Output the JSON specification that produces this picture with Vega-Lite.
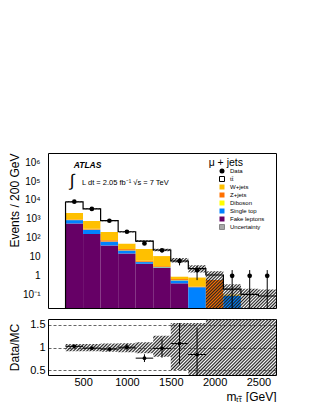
{
  "$schema": "https://vega.github.io/schema/vega-lite/v6.json",
  "background": "white",
  "padding": {"left": 7, "top": 148, "right": 0, "bottom": 0},
  "spacing": 11,
  "bounds": "flush",
  "config": {
    "font": "Liberation Sans",
    "view": {"stroke": null},
    "axis": {"domainColor": "#000", "domainWidth": 1, "tickColor": "#000", "tickWidth": 0.8, "tickSize": 0, "labelColor": "#000", "titleColor": "#000", "labelFont": "Liberation Sans", "titleFont": "Liberation Sans", "titleFontWeight": "normal", "grid": false, "zindex": 2, "labelFlush": false, "labelOverlap": false},
    "legend": {"orient": "none", "legendX": 171, "legendY": 15, "title": null, "padding": 0, "labelFontSize": 6, "labelFont": "Liberation Sans", "labelColor": "#000", "labelOffset": 5, "symbolSize": 25, "rowPadding": -2.4, "symbolStrokeWidth": 1, "symbolOpacity": 1},
    "text": {"font": "Liberation Sans", "color": "#000"}
  },
  "datasets": {
    "stack": [
      {"bin":1,"lo":300,"hi":500,"k":1,"proc":"Fake leptons","v":575},
      {"bin":1,"lo":300,"hi":500,"k":2,"proc":"Single top","v":290},
      {"bin":1,"lo":300,"hi":500,"k":3,"proc":"Diboson","v":5},
      {"bin":1,"lo":300,"hi":500,"k":4,"proc":"Z+jets","v":60},
      {"bin":1,"lo":300,"hi":500,"k":5,"proc":"W+jets","v":1120},
      {"bin":1,"lo":300,"hi":500,"k":6,"proc":"tt̄","v":5900},
      {"bin":2,"lo":500,"hi":700,"k":1,"proc":"Fake leptons","v":160},
      {"bin":2,"lo":500,"hi":700,"k":2,"proc":"Single top","v":110},
      {"bin":2,"lo":500,"hi":700,"k":3,"proc":"Diboson","v":3},
      {"bin":2,"lo":500,"hi":700,"k":4,"proc":"Z+jets","v":27},
      {"bin":2,"lo":500,"hi":700,"k":5,"proc":"W+jets","v":480},
      {"bin":2,"lo":500,"hi":700,"k":6,"proc":"tt̄","v":2620},
      {"bin":3,"lo":700,"hi":900,"k":1,"proc":"Fake leptons","v":40},
      {"bin":3,"lo":700,"hi":900,"k":2,"proc":"Single top","v":23},
      {"bin":3,"lo":700,"hi":900,"k":3,"proc":"Diboson","v":1},
      {"bin":3,"lo":700,"hi":900,"k":4,"proc":"Z+jets","v":11},
      {"bin":3,"lo":700,"hi":900,"k":5,"proc":"W+jets","v":130},
      {"bin":3,"lo":700,"hi":900,"k":6,"proc":"tt̄","v":615},
      {"bin":4,"lo":900,"hi":1100,"k":1,"proc":"Fake leptons","v":15},
      {"bin":4,"lo":900,"hi":1100,"k":2,"proc":"Single top","v":6.5},
      {"bin":4,"lo":900,"hi":1100,"k":3,"proc":"Diboson","v":0.5},
      {"bin":4,"lo":900,"hi":1100,"k":4,"proc":"Z+jets","v":3.5},
      {"bin":4,"lo":900,"hi":1100,"k":5,"proc":"W+jets","v":25},
      {"bin":4,"lo":900,"hi":1100,"k":6,"proc":"tt̄","v":160},
      {"bin":5,"lo":1100,"hi":1300,"k":1,"proc":"Fake leptons","v":4.3},
      {"bin":5,"lo":1100,"hi":1300,"k":2,"proc":"Single top","v":1.0},
      {"bin":5,"lo":1100,"hi":1300,"k":3,"proc":"Diboson","v":0.2},
      {"bin":5,"lo":1100,"hi":1300,"k":4,"proc":"Z+jets","v":0.7},
      {"bin":5,"lo":1100,"hi":1300,"k":5,"proc":"W+jets","v":20},
      {"bin":5,"lo":1100,"hi":1300,"k":6,"proc":"tt̄","v":42},
      {"bin":6,"lo":1300,"hi":1500,"k":1,"proc":"Fake leptons","v":2.6},
      {"bin":6,"lo":1300,"hi":1500,"k":2,"proc":"Single top","v":0.2},
      {"bin":6,"lo":1300,"hi":1500,"k":3,"proc":"Diboson","v":0.1},
      {"bin":6,"lo":1300,"hi":1500,"k":4,"proc":"Z+jets","v":0.3},
      {"bin":6,"lo":1300,"hi":1500,"k":5,"proc":"W+jets","v":7.8},
      {"bin":6,"lo":1300,"hi":1500,"k":6,"proc":"tt̄","v":12},
      {"bin":7,"lo":1500,"hi":1700,"k":1,"proc":"Fake leptons","v":0.4},
      {"bin":7,"lo":1500,"hi":1700,"k":2,"proc":"Single top","v":0.17},
      {"bin":7,"lo":1500,"hi":1700,"k":3,"proc":"Diboson","v":0.02},
      {"bin":7,"lo":1500,"hi":1700,"k":4,"proc":"Z+jets","v":0.08},
      {"bin":7,"lo":1500,"hi":1700,"k":5,"proc":"W+jets","v":0.25},
      {"bin":7,"lo":1500,"hi":1700,"k":6,"proc":"tt̄","v":5.1},
      {"bin":8,"lo":1700,"hi":1900,"k":2,"proc":"Single top","v":0.25},
      {"bin":8,"lo":1700,"hi":1900,"k":4,"proc":"Z+jets","v":0.02},
      {"bin":8,"lo":1700,"hi":1900,"k":5,"proc":"W+jets","v":0.56},
      {"bin":8,"lo":1700,"hi":1900,"k":6,"proc":"tt̄","v":1.57},
      {"bin":9,"lo":1900,"hi":2100,"k":4,"proc":"Z+jets","v":0.6},
      {"bin":9,"lo":1900,"hi":2100,"k":6,"proc":"tt̄","v":0.5},
      {"bin":10,"lo":2100,"hi":2300,"k":2,"proc":"Single top","v":0.09},
      {"bin":10,"lo":2100,"hi":2300,"k":5,"proc":"W+jets","v":0.015},
      {"bin":10,"lo":2100,"hi":2300,"k":6,"proc":"tt̄","v":0.095},
      {"bin":11,"lo":2300,"hi":2500,"k":6,"proc":"tt̄","v":0.105},
      {"bin":12,"lo":2500,"hi":2700,"k":6,"proc":"tt̄","v":0.086}
    ],
    "bins": [
      {"bin":1,"lo":300,"hi":500,"c":400,"data":8100,"dlo":8010,"dhi":8190,"ulo":7470,"uhi":8430,"r":1.03,"rlo":1.015,"rhi":1.045,"blo":0.92,"bhi":1.08},
      {"bin":2,"lo":500,"hi":700,"c":600,"data":3350,"dlo":3292,"dhi":3408,"ulo":3200,"uhi":3600,"r":0.99,"rlo":0.97,"rhi":1.01,"blo":0.92,"bhi":1.08},
      {"bin":3,"lo":700,"hi":900,"c":800,"data":800,"dlo":772,"dhi":828,"ulo":760,"uhi":880,"r":0.97,"rlo":0.935,"rhi":1.005,"blo":0.91,"bhi":1.09},
      {"bin":4,"lo":900,"hi":1100,"c":1000,"data":210,"dlo":196,"dhi":224,"ulo":193,"uhi":227,"r":1.01,"rlo":0.94,"rhi":1.08,"blo":0.9,"bhi":1.1},
      {"bin":5,"lo":1100,"hi":1300,"c":1200,"data":51,"dlo":44,"dhi":58,"ulo":61,"uhi":75,"r":0.77,"rlo":0.685,"rhi":0.855,"blo":0.88,"bhi":1.12},
      {"bin":6,"lo":1300,"hi":1500,"c":1400,"data":22,"dlo":17.3,"dhi":26.7,"ulo":19.5,"uhi":26.5,"r":0.985,"rlo":0.78,"rhi":1.19,"blo":0.8,"bhi":1.26},
      {"bin":7,"lo":1500,"hi":1700,"c":1600,"data":6,"dlo":3.55,"dhi":8.45,"ulo":5.1,"uhi":8.7,"r":1.09,"rlo":0.63,"rhi":1.54,"blo":0.51,"bhi":1.54},
      {"bin":8,"lo":1700,"hi":1900,"c":1800,"data":2,"dlo":0.59,"dhi":3.41,"ulo":1.5,"uhi":3.6,"r":0.85,"rlo":0,"rhi":1.44,"blo":0,"bhi":1.54},
      {"bin":9,"lo":1900,"hi":2100,"c":2000,"data":null,"dlo":null,"dhi":null,"ulo":0,"uhi":1.75,"r":null,"rlo":null,"rhi":null,"blo":0,"bhi":2},
      {"bin":10,"lo":2100,"hi":2300,"c":2200,"data":1,"dlo":0,"dhi":2,"ulo":0,"uhi":0.36,"r":null,"rlo":null,"rhi":null,"blo":0,"bhi":2},
      {"bin":11,"lo":2300,"hi":2500,"c":2400,"data":1,"dlo":0,"dhi":2,"ulo":0,"uhi":0.21,"r":null,"rlo":null,"rhi":null,"blo":0,"bhi":2},
      {"bin":12,"lo":2500,"hi":2700,"c":2600,"data":1,"dlo":0,"dhi":2,"ulo":0,"uhi":0.19,"r":null,"rlo":null,"rhi":null,"blo":0,"bhi":2}
    ]
  },
  "vconcat": [
    {
      "width": 228,
      "height": 155,
      "resolve": {"axis": {"x": "independent", "y": "independent"}},
      "layer": [
        {
          "data": {"name": "stack"},
          "transform": [{"stack": "v", "groupby": ["bin"], "sort": [{"field": "k", "order": "ascending"}], "as": ["y0", "y1"]}],
          "mark": {"type": "rect", "invalid": "show", "opacity": 1, "strokeWidth": 0},
          "encoding": {
            "x": {"field": "lo", "type": "quantitative", "scale": {"domain": [100, 2700], "nice": false, "zero": false},
              "axis": {"orient": "bottom", "values": [100,200,300,400,500,600,700,800,900,1000,1100,1200,1300,1400,1500,1600,1700,1800,1900,2000,2100,2200,2300,2400,2500,2600,2700], "labels": false, "title": null,
                "encode": {"ticks": {"update": {"y2": {"signal": "datum.value % 500 === 0 ? -5 : -2.5"}}}}}},
            "x2": {"field": "hi"},
            "y": {"field": "y1", "type": "quantitative", "scale": {"type": "log", "domain": [0.02, 3000000], "nice": false, "clamp": true},
              "axis": {"orient": "left", "values": [0.02,0.03,0.04,0.05,0.06,0.07,0.08,0.09,0.1,0.2,0.3,0.4,0.5,0.6,0.7,0.8,0.9,1,2,3,4,5,6,7,8,9,10,20,30,40,50,60,70,80,90,100,200,300,400,500,600,700,800,900,1000,2000,3000,4000,5000,6000,7000,8000,9000,10000,20000,30000,40000,50000,60000,70000,80000,90000,100000,200000,300000,400000,500000,600000,700000,800000,900000,1000000,2000000,3000000],
                "labelExpr": "indexof([0.1,1,10,100,1000,10000,100000,1000000], datum.value) >= 0 ? ['10⁻¹','1','10','10²','10³','10⁴','10⁵','10⁶'][indexof([0.1,1,10,100,1000,10000,100000,1000000], datum.value)] : ''",
                "labelFontSize": 10, "labelPadding": 8,
                "title": "Events / 200 GeV", "titleFontSize": 12, "titleAnchor": "end", "titleX": -39, "titleBaseline": "top",
                "encode": {"ticks": {"update": {"x2": {"signal": "indexof([0.1,1,10,100,1000,10000,100000,1000000], datum.value) >= 0 ? 5 : 2.5"}}}}}},
            "y2": {"field": "y0"},
            "color": {"field": "proc", "type": "nominal",
              "scale": {"domain": ["Data","tt̄","W+jets","Z+jets","Diboson","Single top","Fake leptons","Uncertainty"],
                        "range": ["#000000","#ffffff","#ffc000","#ff7000","#ffff00","#0082ff","#660066","#a8a8a8"]},
              "legend": {"symbolType": "square", "symbolSize": 25, "rowPadding": -2.4, "labelFontSize": 6}},
            "stroke": {"field": "proc", "type": "nominal",
              "scale": {"domain": ["Data","tt̄","W+jets","Z+jets","Diboson","Single top","Fake leptons","Uncertainty"],
                        "range": ["transparent","#000000","transparent","transparent","transparent","transparent","transparent","#888888"]},
              "legend": {"symbolType": "square", "symbolSize": 25, "rowPadding": -2.4, "labelFontSize": 6}}
          }
        },
        {
          "data": {"name": "bins"},
          "transform": [{"fold": ["lo", "hi"], "as": ["edge", "xe"]}],
          "mark": {"type": "area", "invalid": "show", "stroke": null, "opacity": 1,
            "fill": {"gradient": "linear", "x1": 0, "y1": 0, "x2": 1.2, "y2": 0.607, "stops": [
              {"offset":0,"color":"#222"},{"offset":0.005,"color":"#2220"},{"offset":0.01,"color":"#222"},{"offset":0.015,"color":"#2220"},{"offset":0.02,"color":"#222"},{"offset":0.025,"color":"#2220"},{"offset":0.03,"color":"#222"},{"offset":0.035,"color":"#2220"},{"offset":0.04,"color":"#222"},{"offset":0.045,"color":"#2220"},{"offset":0.05,"color":"#222"},{"offset":0.055,"color":"#2220"},{"offset":0.06,"color":"#222"},{"offset":0.065,"color":"#2220"},{"offset":0.07,"color":"#222"},{"offset":0.075,"color":"#2220"},{"offset":0.08,"color":"#222"},{"offset":0.085,"color":"#2220"},{"offset":0.09,"color":"#222"},{"offset":0.095,"color":"#2220"},
              {"offset":0.1,"color":"#222"},{"offset":0.105,"color":"#2220"},{"offset":0.11,"color":"#222"},{"offset":0.115,"color":"#2220"},{"offset":0.12,"color":"#222"},{"offset":0.125,"color":"#2220"},{"offset":0.13,"color":"#222"},{"offset":0.135,"color":"#2220"},{"offset":0.14,"color":"#222"},{"offset":0.145,"color":"#2220"},{"offset":0.15,"color":"#222"},{"offset":0.155,"color":"#2220"},{"offset":0.16,"color":"#222"},{"offset":0.165,"color":"#2220"},{"offset":0.17,"color":"#222"},{"offset":0.175,"color":"#2220"},{"offset":0.18,"color":"#222"},{"offset":0.185,"color":"#2220"},{"offset":0.19,"color":"#222"},{"offset":0.195,"color":"#2220"},
              {"offset":0.2,"color":"#222"},{"offset":0.205,"color":"#2220"},{"offset":0.21,"color":"#222"},{"offset":0.215,"color":"#2220"},{"offset":0.22,"color":"#222"},{"offset":0.225,"color":"#2220"},{"offset":0.23,"color":"#222"},{"offset":0.235,"color":"#2220"},{"offset":0.24,"color":"#222"},{"offset":0.245,"color":"#2220"},{"offset":0.25,"color":"#222"},{"offset":0.255,"color":"#2220"},{"offset":0.26,"color":"#222"},{"offset":0.265,"color":"#2220"},{"offset":0.27,"color":"#222"},{"offset":0.275,"color":"#2220"},{"offset":0.28,"color":"#222"},{"offset":0.285,"color":"#2220"},{"offset":0.29,"color":"#222"},{"offset":0.295,"color":"#2220"},
              {"offset":0.3,"color":"#222"},{"offset":0.305,"color":"#2220"},{"offset":0.31,"color":"#222"},{"offset":0.315,"color":"#2220"},{"offset":0.32,"color":"#222"},{"offset":0.325,"color":"#2220"},{"offset":0.33,"color":"#222"},{"offset":0.335,"color":"#2220"},{"offset":0.34,"color":"#222"},{"offset":0.345,"color":"#2220"},{"offset":0.35,"color":"#222"},{"offset":0.355,"color":"#2220"},{"offset":0.36,"color":"#222"},{"offset":0.365,"color":"#2220"},{"offset":0.37,"color":"#222"},{"offset":0.375,"color":"#2220"},{"offset":0.38,"color":"#222"},{"offset":0.385,"color":"#2220"},{"offset":0.39,"color":"#222"},{"offset":0.395,"color":"#2220"},
              {"offset":0.4,"color":"#222"},{"offset":0.405,"color":"#2220"},{"offset":0.41,"color":"#222"},{"offset":0.415,"color":"#2220"},{"offset":0.42,"color":"#222"},{"offset":0.425,"color":"#2220"},{"offset":0.43,"color":"#222"},{"offset":0.435,"color":"#2220"},{"offset":0.44,"color":"#222"},{"offset":0.445,"color":"#2220"},{"offset":0.45,"color":"#222"},{"offset":0.455,"color":"#2220"},{"offset":0.46,"color":"#222"},{"offset":0.465,"color":"#2220"},{"offset":0.47,"color":"#222"},{"offset":0.475,"color":"#2220"},{"offset":0.48,"color":"#222"},{"offset":0.485,"color":"#2220"},{"offset":0.49,"color":"#222"},{"offset":0.495,"color":"#2220"},
              {"offset":0.5,"color":"#222"},{"offset":0.505,"color":"#2220"},{"offset":0.51,"color":"#222"},{"offset":0.515,"color":"#2220"},{"offset":0.52,"color":"#222"},{"offset":0.525,"color":"#2220"},{"offset":0.53,"color":"#222"},{"offset":0.535,"color":"#2220"},{"offset":0.54,"color":"#222"},{"offset":0.545,"color":"#2220"},{"offset":0.55,"color":"#222"},{"offset":0.555,"color":"#2220"},{"offset":0.56,"color":"#222"},{"offset":0.565,"color":"#2220"},{"offset":0.57,"color":"#222"},{"offset":0.575,"color":"#2220"},{"offset":0.58,"color":"#222"},{"offset":0.585,"color":"#2220"},{"offset":0.59,"color":"#222"},{"offset":0.595,"color":"#2220"},
              {"offset":0.6,"color":"#222"},{"offset":0.605,"color":"#2220"},{"offset":0.61,"color":"#222"},{"offset":0.615,"color":"#2220"},{"offset":0.62,"color":"#222"},{"offset":0.625,"color":"#2220"},{"offset":0.63,"color":"#222"},{"offset":0.635,"color":"#2220"},{"offset":0.64,"color":"#222"},{"offset":0.645,"color":"#2220"},{"offset":0.65,"color":"#222"},{"offset":0.655,"color":"#2220"},{"offset":0.66,"color":"#222"},{"offset":0.665,"color":"#2220"},{"offset":0.67,"color":"#222"},{"offset":0.675,"color":"#2220"},{"offset":0.68,"color":"#222"},{"offset":0.685,"color":"#2220"},{"offset":0.69,"color":"#222"},{"offset":0.695,"color":"#2220"},
              {"offset":0.7,"color":"#222"},{"offset":0.705,"color":"#2220"},{"offset":0.71,"color":"#222"},{"offset":0.715,"color":"#2220"},{"offset":0.72,"color":"#222"},{"offset":0.725,"color":"#2220"},{"offset":0.73,"color":"#222"},{"offset":0.735,"color":"#2220"},{"offset":0.74,"color":"#222"},{"offset":0.745,"color":"#2220"},{"offset":0.75,"color":"#222"},{"offset":0.755,"color":"#2220"},{"offset":0.76,"color":"#222"},{"offset":0.765,"color":"#2220"},{"offset":0.77,"color":"#222"},{"offset":0.775,"color":"#2220"},{"offset":0.78,"color":"#222"},{"offset":0.785,"color":"#2220"},{"offset":0.79,"color":"#222"},{"offset":0.795,"color":"#2220"},
              {"offset":0.8,"color":"#222"},{"offset":0.805,"color":"#2220"},{"offset":0.81,"color":"#222"},{"offset":0.815,"color":"#2220"},{"offset":0.82,"color":"#222"},{"offset":0.825,"color":"#2220"},{"offset":0.83,"color":"#222"},{"offset":0.835,"color":"#2220"},{"offset":0.84,"color":"#222"},{"offset":0.845,"color":"#2220"},{"offset":0.85,"color":"#222"},{"offset":0.855,"color":"#2220"},{"offset":0.86,"color":"#222"},{"offset":0.865,"color":"#2220"},{"offset":0.87,"color":"#222"},{"offset":0.875,"color":"#2220"},{"offset":0.88,"color":"#222"},{"offset":0.885,"color":"#2220"},{"offset":0.89,"color":"#222"},{"offset":0.895,"color":"#2220"},
              {"offset":0.9,"color":"#222"},{"offset":0.905,"color":"#2220"},{"offset":0.91,"color":"#222"},{"offset":0.915,"color":"#2220"},{"offset":0.92,"color":"#222"},{"offset":0.925,"color":"#2220"},{"offset":0.93,"color":"#222"},{"offset":0.935,"color":"#2220"},{"offset":0.94,"color":"#222"},{"offset":0.945,"color":"#2220"},{"offset":0.95,"color":"#222"},{"offset":0.955,"color":"#2220"},{"offset":0.96,"color":"#222"},{"offset":0.965,"color":"#2220"},{"offset":0.97,"color":"#222"},{"offset":0.975,"color":"#2220"},{"offset":0.98,"color":"#222"},{"offset":0.985,"color":"#2220"},{"offset":0.99,"color":"#222"},{"offset":0.995,"color":"#2220"},
              {"offset":1,"color":"#222"}
            ]}},
          "encoding": {
            "x": {"field": "xe", "type": "quantitative",
              "axis": {"orient": "top", "values": [100,200,300,400,500,600,700,800,900,1000,1100,1200,1300,1400,1500,1600,1700,1800,1900,2000,2100,2200,2300,2400,2500,2600,2700], "labels": false, "title": null,
                "encode": {"ticks": {"update": {"y2": {"signal": "datum.value % 500 === 0 ? 5 : 2.5"}}}}}},
            "y": {"field": "uhi", "type": "quantitative",
              "axis": {"orient": "right", "values": [0.02,0.03,0.04,0.05,0.06,0.07,0.08,0.09,0.1,0.2,0.3,0.4,0.5,0.6,0.7,0.8,0.9,1,2,3,4,5,6,7,8,9,10,20,30,40,50,60,70,80,90,100,200,300,400,500,600,700,800,900,1000,2000,3000,4000,5000,6000,7000,8000,9000,10000,20000,30000,40000,50000,60000,70000,80000,90000,100000,200000,300000,400000,500000,600000,700000,800000,900000,1000000,2000000,3000000], "labels": false, "title": null,
                "encode": {"ticks": {"update": {"x2": {"signal": "indexof([0.1,1,10,100,1000,10000,100000,1000000], datum.value) >= 0 ? -5 : -2.5"}}}}}},
            "y2": {"field": "ulo"},
            "order": [{"field": "xe", "type": "quantitative"}, {"field": "bin", "type": "quantitative"}]
          }
        },
        {
          "data": {"name": "stack"},
          "transform": [
            {"stack": "v", "groupby": ["bin"], "sort": [{"field": "k", "order": "ascending"}], "as": ["y0", "y1"]},
            {"filter": "datum.k === 6"},
            {"fold": ["lo", "hi"], "as": ["edge", "xe"]}
          ],
          "mark": {"type": "line", "color": "#000", "strokeWidth": 1.2, "interpolate": "linear"},
          "encoding": {
            "x": {"field": "xe", "type": "quantitative", "axis": null},
            "y": {"field": "y1", "type": "quantitative", "axis": null},
            "order": [{"field": "xe", "type": "quantitative"}, {"field": "bin", "type": "quantitative"}]
          }
        },
        {
          "data": {"name": "stack"},
          "transform": [
            {"stack": "v", "groupby": ["bin"], "sort": [{"field": "k", "order": "ascending"}], "as": ["y0", "y1"]},
            {"filter": "datum.k === 6 && datum.bin === 1"}
          ],
          "mark": {"type": "rule", "color": "#000", "strokeWidth": 1.2},
          "encoding": {
            "x": {"field": "lo", "type": "quantitative", "axis": null},
            "y": {"field": "y1", "type": "quantitative", "axis": null},
            "y2": {"datum": 0.02}
          }
        },
        {
          "data": {"name": "bins"},
          "transform": [{"filter": "isValid(datum.data)"}],
          "mark": {"type": "rule", "color": "#000", "strokeWidth": 1, "invalid": "show"},
          "encoding": {
            "x": {"field": "c", "type": "quantitative", "axis": null},
            "y": {"field": "dlo", "type": "quantitative", "axis": null},
            "y2": {"field": "dhi"}
          }
        },
        {
          "data": {"name": "bins"},
          "transform": [{"filter": "isValid(datum.data)"}],
          "mark": {"type": "point", "filled": true, "color": "#000", "size": 22, "opacity": 1},
          "encoding": {
            "x": {"field": "c", "type": "quantitative", "axis": null},
            "y": {"field": "data", "type": "quantitative", "axis": null},
            "shape": {"datum": "Data", "type": "nominal",
              "scale": {"domain": ["Data","tt̄","W+jets","Z+jets","Diboson","Single top","Fake leptons","Uncertainty"],
                        "range": ["circle","square","square","square","square","square","square","square"]},
              "legend": {"symbolType": "square", "symbolSize": 25, "rowPadding": -2.4, "labelFontSize": 6}}
          }
        },
        {
          "data": {"values": [{}]},
          "mark": {"type": "text", "text": "ATLAS", "fontSize": 8.5, "fontStyle": "italic", "fontWeight": "bold", "align": "left", "baseline": "middle"},
          "encoding": {"x": {"datum": 393, "axis": null}, "y": {"datum": 700000, "axis": null}}
        },
        {
          "data": {"values": [{}]},
          "mark": {"type": "text", "text": "∫", "fontSize": 17, "align": "center", "baseline": "middle"},
          "encoding": {"x": {"datum": 374, "axis": null}, "y": {"datum": 100000, "axis": null}}
        },
        {
          "data": {"values": [{}]},
          "mark": {"type": "text", "text": "L dt = 2.05 fb⁻¹  √s = 7 TeV", "fontSize": 7.5, "align": "left", "baseline": "middle"},
          "encoding": {"x": {"datum": 488, "axis": null}, "y": {"datum": 81500, "axis": null}}
        },
        {
          "data": {"values": [{}]},
          "mark": {"type": "text", "text": "μ + jets", "fontSize": 10.5, "align": "left", "baseline": "middle"},
          "encoding": {"x": {"datum": 1932, "axis": null}, "y": {"datum": 920000, "axis": null}}
        }
      ]
    },
    {
      "width": 228,
      "height": 56,
      "resolve": {"axis": {"x": "independent", "y": "independent"}},
      "layer": [
        {
          "data": {"name": "bins"},
          "transform": [{"fold": ["lo", "hi"], "as": ["edge", "xe"]}],
          "mark": {"type": "area", "stroke": null, "opacity": 1,
            "fill": {"gradient": "linear", "x1": 0, "y1": 0, "x2": 1.182, "y2": 0.315, "stops": [
              {"offset":0,"color":"#222"},{"offset":0.00625,"color":"#2220"},{"offset":0.0125,"color":"#222"},{"offset":0.01875,"color":"#2220"},{"offset":0.025,"color":"#222"},{"offset":0.03125,"color":"#2220"},{"offset":0.0375,"color":"#222"},{"offset":0.04375,"color":"#2220"},{"offset":0.05,"color":"#222"},{"offset":0.05625,"color":"#2220"},{"offset":0.0625,"color":"#222"},{"offset":0.06875,"color":"#2220"},{"offset":0.075,"color":"#222"},{"offset":0.08125,"color":"#2220"},{"offset":0.0875,"color":"#222"},{"offset":0.09375,"color":"#2220"},
              {"offset":0.1,"color":"#222"},{"offset":0.10625,"color":"#2220"},{"offset":0.1125,"color":"#222"},{"offset":0.11875,"color":"#2220"},{"offset":0.125,"color":"#222"},{"offset":0.13125,"color":"#2220"},{"offset":0.1375,"color":"#222"},{"offset":0.14375,"color":"#2220"},{"offset":0.15,"color":"#222"},{"offset":0.15625,"color":"#2220"},{"offset":0.1625,"color":"#222"},{"offset":0.16875,"color":"#2220"},{"offset":0.175,"color":"#222"},{"offset":0.18125,"color":"#2220"},{"offset":0.1875,"color":"#222"},{"offset":0.19375,"color":"#2220"},
              {"offset":0.2,"color":"#222"},{"offset":0.20625,"color":"#2220"},{"offset":0.2125,"color":"#222"},{"offset":0.21875,"color":"#2220"},{"offset":0.225,"color":"#222"},{"offset":0.23125,"color":"#2220"},{"offset":0.2375,"color":"#222"},{"offset":0.24375,"color":"#2220"},{"offset":0.25,"color":"#222"},{"offset":0.25625,"color":"#2220"},{"offset":0.2625,"color":"#222"},{"offset":0.26875,"color":"#2220"},{"offset":0.275,"color":"#222"},{"offset":0.28125,"color":"#2220"},{"offset":0.2875,"color":"#222"},{"offset":0.29375,"color":"#2220"},
              {"offset":0.3,"color":"#222"},{"offset":0.30625,"color":"#2220"},{"offset":0.3125,"color":"#222"},{"offset":0.31875,"color":"#2220"},{"offset":0.325,"color":"#222"},{"offset":0.33125,"color":"#2220"},{"offset":0.3375,"color":"#222"},{"offset":0.34375,"color":"#2220"},{"offset":0.35,"color":"#222"},{"offset":0.35625,"color":"#2220"},{"offset":0.3625,"color":"#222"},{"offset":0.36875,"color":"#2220"},{"offset":0.375,"color":"#222"},{"offset":0.38125,"color":"#2220"},{"offset":0.3875,"color":"#222"},{"offset":0.39375,"color":"#2220"},
              {"offset":0.4,"color":"#222"},{"offset":0.40625,"color":"#2220"},{"offset":0.4125,"color":"#222"},{"offset":0.41875,"color":"#2220"},{"offset":0.425,"color":"#222"},{"offset":0.43125,"color":"#2220"},{"offset":0.4375,"color":"#222"},{"offset":0.44375,"color":"#2220"},{"offset":0.45,"color":"#222"},{"offset":0.45625,"color":"#2220"},{"offset":0.4625,"color":"#222"},{"offset":0.46875,"color":"#2220"},{"offset":0.475,"color":"#222"},{"offset":0.48125,"color":"#2220"},{"offset":0.4875,"color":"#222"},{"offset":0.49375,"color":"#2220"},
              {"offset":0.5,"color":"#222"},{"offset":0.50625,"color":"#2220"},{"offset":0.5125,"color":"#222"},{"offset":0.51875,"color":"#2220"},{"offset":0.525,"color":"#222"},{"offset":0.53125,"color":"#2220"},{"offset":0.5375,"color":"#222"},{"offset":0.54375,"color":"#2220"},{"offset":0.55,"color":"#222"},{"offset":0.55625,"color":"#2220"},{"offset":0.5625,"color":"#222"},{"offset":0.56875,"color":"#2220"},{"offset":0.575,"color":"#222"},{"offset":0.58125,"color":"#2220"},{"offset":0.5875,"color":"#222"},{"offset":0.59375,"color":"#2220"},
              {"offset":0.6,"color":"#222"},{"offset":0.60625,"color":"#2220"},{"offset":0.6125,"color":"#222"},{"offset":0.61875,"color":"#2220"},{"offset":0.625,"color":"#222"},{"offset":0.63125,"color":"#2220"},{"offset":0.6375,"color":"#222"},{"offset":0.64375,"color":"#2220"},{"offset":0.65,"color":"#222"},{"offset":0.65625,"color":"#2220"},{"offset":0.6625,"color":"#222"},{"offset":0.66875,"color":"#2220"},{"offset":0.675,"color":"#222"},{"offset":0.68125,"color":"#2220"},{"offset":0.6875,"color":"#222"},{"offset":0.69375,"color":"#2220"},
              {"offset":0.7,"color":"#222"},{"offset":0.70625,"color":"#2220"},{"offset":0.7125,"color":"#222"},{"offset":0.71875,"color":"#2220"},{"offset":0.725,"color":"#222"},{"offset":0.73125,"color":"#2220"},{"offset":0.7375,"color":"#222"},{"offset":0.74375,"color":"#2220"},{"offset":0.75,"color":"#222"},{"offset":0.75625,"color":"#2220"},{"offset":0.7625,"color":"#222"},{"offset":0.76875,"color":"#2220"},{"offset":0.775,"color":"#222"},{"offset":0.78125,"color":"#2220"},{"offset":0.7875,"color":"#222"},{"offset":0.79375,"color":"#2220"},
              {"offset":0.8,"color":"#222"},{"offset":0.80625,"color":"#2220"},{"offset":0.8125,"color":"#222"},{"offset":0.81875,"color":"#2220"},{"offset":0.825,"color":"#222"},{"offset":0.83125,"color":"#2220"},{"offset":0.8375,"color":"#222"},{"offset":0.84375,"color":"#2220"},{"offset":0.85,"color":"#222"},{"offset":0.85625,"color":"#2220"},{"offset":0.8625,"color":"#222"},{"offset":0.86875,"color":"#2220"},{"offset":0.875,"color":"#222"},{"offset":0.88125,"color":"#2220"},{"offset":0.8875,"color":"#222"},{"offset":0.89375,"color":"#2220"},
              {"offset":0.9,"color":"#222"},{"offset":0.90625,"color":"#2220"},{"offset":0.9125,"color":"#222"},{"offset":0.91875,"color":"#2220"},{"offset":0.925,"color":"#222"},{"offset":0.93125,"color":"#2220"},{"offset":0.9375,"color":"#222"},{"offset":0.94375,"color":"#2220"},{"offset":0.95,"color":"#222"},{"offset":0.95625,"color":"#2220"},{"offset":0.9625,"color":"#222"},{"offset":0.96875,"color":"#2220"},{"offset":0.975,"color":"#222"},{"offset":0.98125,"color":"#2220"},{"offset":0.9875,"color":"#222"},{"offset":0.99375,"color":"#2220"},
              {"offset":1,"color":"#222"}
            ]}},
          "encoding": {
            "x": {"field": "xe", "type": "quantitative", "scale": {"domain": [100, 2700], "nice": false, "zero": false},
              "axis": {"orient": "bottom", "values": [100,200,300,400,500,600,700,800,900,1000,1100,1200,1300,1400,1500,1600,1700,1800,1900,2000,2100,2200,2300,2400,2500,2600,2700],
                "labelExpr": "datum.value % 500 === 0 ? '' + datum.value : ''", "labelFontSize": 11, "labelPadding": 1,
                "title": "mₜₜ̄ [GeV]", "titleFontSize": 12, "titleAnchor": "end", "titleY": 21, "titleBaseline": "middle",
                "encode": {"ticks": {"update": {"y2": {"signal": "datum.value % 500 === 0 ? -5 : -2.5"}}}}}},
            "y": {"field": "bhi", "type": "quantitative", "scale": {"domain": [0.4, 1.63], "nice": false, "zero": false, "clamp": true},
              "axis": {"orient": "left", "values": [0.4,0.5,0.6,0.7,0.8,0.9,1,1.1,1.2,1.3,1.4,1.5,1.6],
                "labelExpr": "datum.value === 0.5 ? '0.5' : datum.value === 1 ? '1' : datum.value === 1.5 ? '1.5' : ''", "labelFontSize": 11, "labelPadding": 3,
                "title": "Data/MC", "titleFontSize": 12, "titleAnchor": "middle", "titleX": -39, "titleBaseline": "top",
                "grid": true, "gridDash": [3, 2], "gridColor": "#222", "gridWidth": 0.7,
                "gridOpacity": {"condition": {"test": "indexof([0.5,1,1.5], datum.value) >= 0", "value": 1}, "value": 0},
                "encode": {"ticks": {"update": {"x2": {"signal": "indexof([0.5,1,1.5], datum.value) >= 0 ? 5 : 2.5"}}}}}},
            "y2": {"field": "blo"},
            "order": [{"field": "xe", "type": "quantitative"}, {"field": "bin", "type": "quantitative"}]
          }
        },
        {
          "data": {"name": "bins"},
          "transform": [{"filter": "isValid(datum.r)"}],
          "mark": {"type": "rule", "color": "#000", "strokeWidth": 1},
          "encoding": {
            "x": {"field": "lo", "type": "quantitative",
              "axis": {"orient": "top", "values": [100,200,300,400,500,600,700,800,900,1000,1100,1200,1300,1400,1500,1600,1700,1800,1900,2000,2100,2200,2300,2400,2500,2600,2700], "labels": false, "title": null,
                "encode": {"ticks": {"update": {"y2": {"signal": "datum.value % 500 === 0 ? 5 : 2.5"}}}}}},
            "x2": {"field": "hi"},
            "y": {"field": "r", "type": "quantitative",
              "axis": {"orient": "right", "values": [0.4,0.5,0.6,0.7,0.8,0.9,1,1.1,1.2,1.3,1.4,1.5,1.6], "labels": false, "title": null,
                "encode": {"ticks": {"update": {"x2": {"signal": "indexof([0.5,1,1.5], datum.value) >= 0 ? -5 : -2.5"}}}}}}
          }
        },
        {
          "data": {"name": "bins"},
          "transform": [{"filter": "isValid(datum.r)"}],
          "mark": {"type": "rule", "color": "#000", "strokeWidth": 1},
          "encoding": {
            "x": {"field": "c", "type": "quantitative", "axis": null},
            "y": {"field": "rlo", "type": "quantitative", "axis": null},
            "y2": {"field": "rhi"}
          }
        },
        {
          "data": {"name": "bins"},
          "transform": [{"filter": "isValid(datum.r)"}],
          "mark": {"type": "point", "filled": true, "color": "#000", "size": 14, "opacity": 1},
          "encoding": {
            "x": {"field": "c", "type": "quantitative", "axis": null},
            "y": {"field": "r", "type": "quantitative", "axis": null}
          }
        }
      ]
    }
  ]
}
